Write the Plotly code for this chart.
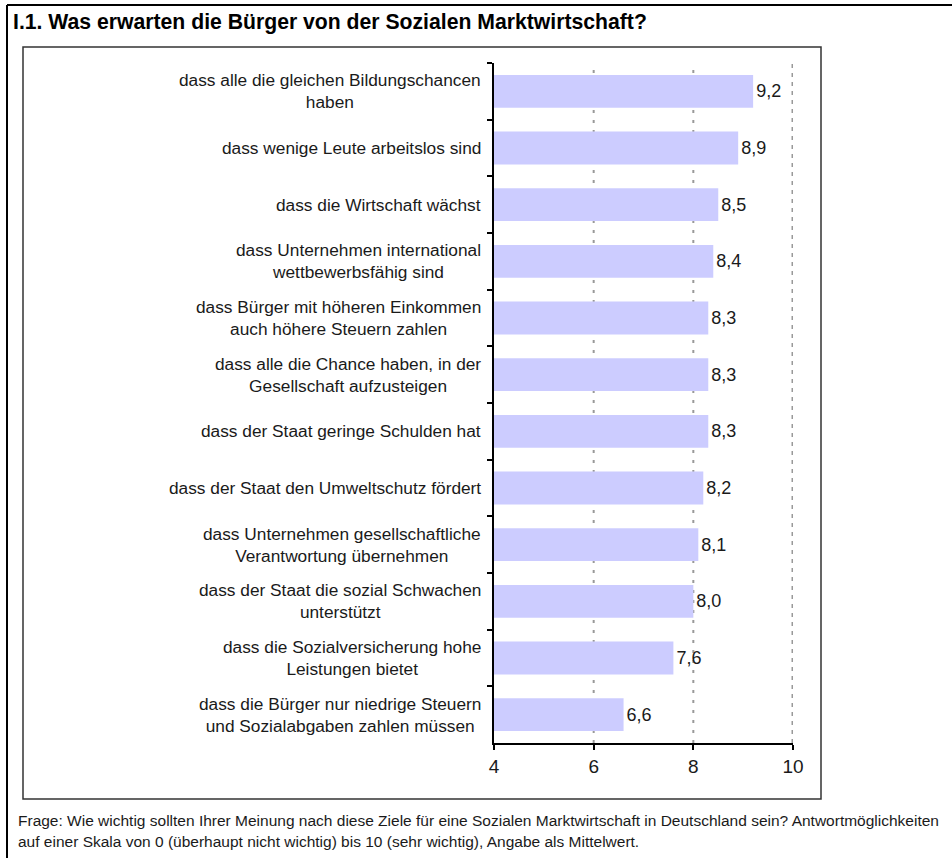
import plotly.graph_objects as go

# categories top to bottom, mean on a 0-10 scale
categories = [
    "dass alle die gleichen Bildungschancen<br>haben",
    "dass wenige Leute arbeitslos sind",
    "dass die Wirtschaft wächst",
    "dass Unternehmen international<br>wettbewerbsfähig sind",
    "dass Bürger mit höheren Einkommen<br>auch höhere Steuern zahlen",
    "dass alle die Chance haben, in der<br>Gesellschaft aufzusteigen",
    "dass der Staat geringe Schulden hat",
    "dass der Staat den Umweltschutz fördert",
    "dass Unternehmen gesellschaftliche<br>Verantwortung übernehmen",
    "dass der Staat die sozial Schwachen<br>unterstützt",
    "dass die Sozialversicherung hohe<br>Leistungen bietet",
    "dass die Bürger nur niedrige Steuern<br>und Sozialabgaben zahlen müssen",
]
values = [9.2, 8.9, 8.5, 8.4, 8.3, 8.3, 8.3, 8.2, 8.1, 8.0, 7.6, 6.6]
x_ticks = [4, 6, 8, 10]

title = "I.1. Was erwarten die Bürger von der Sozialen Marktwirtschaft?"
note_lines = [
    "Frage: Wie wichtig sollten Ihrer Meinung nach diese Ziele für eine Sozialen "
    "Marktwirtschaft in Deutschland sein? Antwortmöglichkeiten",
    "auf einer Skala von 0 (überhaupt nicht wichtig) bis 10 (sehr wichtig), Angabe als Mittelwert.",
]

FONT = "Arial, Liberation Sans, sans-serif"
W, H = 952, 858
L, R, T, B = 494, 793, 63, 743  # plot area in pixels


def px(x):
    return (x - L) / (R - L)


def py(y):
    return (B - y) / (B - T)


fig = go.Figure()
fig.add_trace(go.Bar(
    x=values, y=categories, orientation="h",
    marker=dict(color="#CCCCFF", line=dict(width=0)),
    width=0.58,
    texttemplate="%{x:.1f}", textposition="outside",
    textfont=dict(family=FONT, size=18, color="#1a1a1a"),
    cliponaxis=False, hoverinfo="skip",
))

# dotted reference lines at 6 and 8, denser one at 10
for xv in x_ticks[1:3]:
    fig.add_shape(type="line", xref="x", yref="paper", x0=xv, x1=xv, y0=0, y1=1,
                  line=dict(color="#999999", width=2, dash="3px,7px"), layer="below")
fig.add_shape(type="line", xref="x", yref="paper", x0=x_ticks[-1], x1=x_ticks[-1], y0=0, y1=1,
              line=dict(color="#999999", width=3, dash="4px,5px"), layer="below")

# category labels: right-aligned block, centred lines
for cat in categories:
    fig.add_annotation(
        x=0, xref="paper", y=cat, yref="y", xanchor="right", xshift=-11,
        text=cat, showarrow=False, align="center",
        font=dict(family=FONT, size=17.3, color="#1a1a1a"),
    )

fig.add_annotation(
    x=px(11), y=py(22), xref="paper", yref="paper", xanchor="left", yanchor="middle",
    text="<b>" + title + "</b>", showarrow=False,
    font=dict(family=FONT, size=21.2, color="#000000"),
)
for line, yy in zip(note_lines, [820, 841]):
    fig.add_annotation(
        x=px(16), y=py(yy), xref="paper", yref="paper", xanchor="left", yanchor="middle",
        text=line, showarrow=False, align="left",
        font=dict(family=FONT, size=15.5, color="#1a1a1a"),
    )

# outer frame and inner box
fig.add_shape(type="line", xref="paper", yref="paper", x0=px(7), x1=px(W + 5),
              y0=py(5), y1=py(5), line=dict(color="#000", width=2))
fig.add_shape(type="line", xref="paper", yref="paper", x0=px(7), x1=px(7),
              y0=py(5), y1=py(H + 5), line=dict(color="#000", width=2))
fig.add_shape(type="rect", xref="paper", yref="paper", x0=px(23), x1=px(821),
              y0=py(47), y1=py(799), line=dict(color="#333", width=1.5), layer="below")

fig.update_layout(
    width=W, height=H,
    margin=dict(l=L, r=W - R, t=T, b=H - B, pad=0),
    paper_bgcolor="white", plot_bgcolor="white",
    separators=",.",
    showlegend=False,
)
fig.update_xaxes(
    range=[4, 10], tickvals=x_ticks, ticktext=[str(t) for t in x_ticks],
    showgrid=False,
    showline=True, linecolor="#000", linewidth=1.5,
    ticks="outside", ticklen=5, tickcolor="#000", tickwidth=1.5,
    tickfont=dict(family=FONT, size=19, color="#1a1a1a"),
    zeroline=False, fixedrange=True,
)
fig.update_yaxes(
    autorange="reversed", showticklabels=False,
    showgrid=False, showline=True, linecolor="#000", linewidth=1.5,
    ticks="outside", ticklen=5, tickcolor="#000", tickwidth=1.5, tickson="boundaries",
    fixedrange=True,
)

# page body has a default margin; drop it so the figure sits at 0,0
fig.write_html("out.html", config={"displayModeBar": False},
               post_script="document.body.style.margin='0';")
